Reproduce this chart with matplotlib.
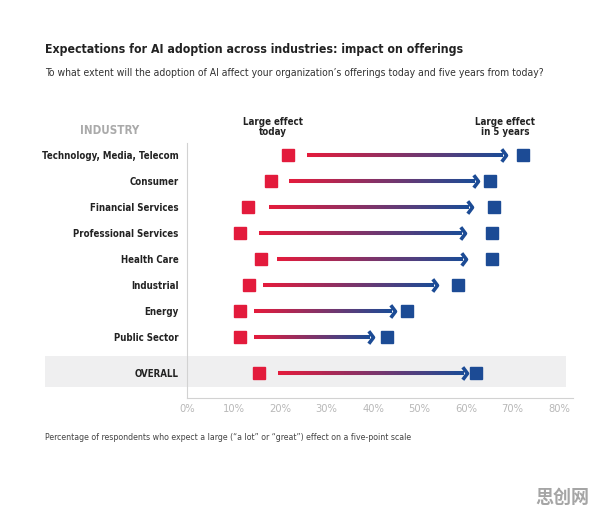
import numpy as np
import matplotlib
matplotlib.use("Agg")
import matplotlib.pyplot as plt
from matplotlib.collections import LineCollection
from matplotlib.colors import LinearSegmentedColormap
from matplotlib.patches import Rectangle
from matplotlib.path import Path

plt.rcParams["font.family"] = ["DejaVu Sans"]
plt.rcParams["font.stretch"] = "condensed"

# data (percent of respondents)
industries = ["Technology, Media, Telecom", "Consumer", "Financial Services",
              "Professional Services", "Health Care", "Industrial", "Energy",
              "Public Sector", "OVERALL"]
effect_today = [21.8, 18.1, 13.1, 11.4, 15.9, 13.4, 11.5, 11.5, 15.4]
effect_5yrs = [72.3, 65.2, 66.0, 65.6, 65.6, 58.2, 47.4, 43.1, 62.2]
# arrow shafts as drawn in the original (start and tip, in %)
arrow_start = [25.7, 21.9, 17.6, 15.5, 19.3, 16.4, 14.4, 14.4, 19.5]
arrow_end = [68.6, 62.5, 61.2, 59.8, 60.0, 53.8, 44.7, 39.9, 60.1]
x_ticks = [0, 10, 20, 30, 40, 50, 60, 70, 80]

RED = "#E31B3C"
BLUE = "#1C4B95"
DARK = "#222222"
GRAY = "#B8B8B8"

# row positions: the OVERALL row sits a bit apart from the rest
ypos = list(np.arange(8)) + [8.38]

fig = plt.figure(figsize=(5.96, 5.13), dpi=100)
ax = fig.add_axes([187 / 596, 1 - 398 / 513, 386 / 596, 255 / 513])
ax.set_facecolor("none")
ax.set_xlim(0, 83)
ax.set_ylim(9.35, -0.46)

# shaded band behind OVERALL
ax.add_patch(Rectangle((-30.5, 7.73), 112, 1.21, color="#EFEFF0", lw=0,
                       clip_on=False, zorder=0))

# gradient arrow shafts
cmap = LinearSegmentedColormap.from_list("rb", [RED, BLUE])
segs, cols = [], []
for y, x0, x1 in zip(ypos, arrow_start, arrow_end):
    xs = np.linspace(x0, x1 - 0.6, 60)
    for i in range(len(xs) - 1):
        segs.append([(xs[i], y), (xs[i + 1], y)])
        cols.append(cmap(i / (len(xs) - 2)))
ax.add_collection(LineCollection(segs, colors=cols, linewidths=2.9,
                                 capstyle="butt", zorder=2))

# open chevron heads
chevron = Path([(-0.75, 1.0), (0, 0), (-0.75, -1.0)],
               [Path.MOVETO, Path.LINETO, Path.LINETO])
ax.plot(arrow_end, ypos, linestyle="none", marker=chevron, markersize=9,
        markeredgewidth=2.6, markeredgecolor=BLUE, fillstyle="none", zorder=3)

ax.plot(effect_today, ypos, "s", color=RED, markersize=8.6, zorder=4)
ax.plot(effect_5yrs, ypos, "s", color=BLUE, markersize=8.6, zorder=4)

ax.set_yticks(ypos)
ax.set_yticklabels(industries, fontsize=6.9, fontweight="bold", color=DARK)
ax.set_xticks(x_ticks)
ax.set_xticklabels([f"{t}%" for t in x_ticks], fontsize=8, color=GRAY)
ax.tick_params(axis="y", length=0, pad=6)
ax.tick_params(axis="x", length=0, pad=4)
for side in ["top", "right"]:
    ax.spines[side].set_visible(False)
ax.spines["left"].set_color("#D2D2D2")
ax.spines["bottom"].set_color("#D2D2D2")

def fx(px):
    return px / 596

def fy(py):
    return 1 - py / 513

fig.text(fx(45), fy(50), "Expectations for AI adoption across industries: impact on offerings",
         fontsize=8.8, fontweight="bold", color=DARK, va="center")
fig.text(fx(45), fy(73), "To what extent will the adoption of AI affect your organization\u2019s "
         "offerings today and five years from today?",
         fontsize=7.45, color="#333333", va="center")
fig.text(fx(110), fy(131), "INDUSTRY", fontsize=8.3, fontweight="bold",
         color="#AAAAAA", ha="center", va="center")
fig.text(fx(273), fy(127), "Large effect\ntoday", fontsize=7, fontweight="bold",
         color=DARK, ha="center", va="center", linespacing=1.05)
fig.text(fx(505), fy(127), "Large effect\nin 5 years", fontsize=7, fontweight="bold",
         color=DARK, ha="center", va="center", linespacing=1.05)
fig.text(fx(45), fy(438), "Percentage of respondents who expect a large (\u201ca lot\u201d or "
         "\u201cgreat\u201d) effect on a five-point scale",
         fontsize=6.3, color="#444444", va="center")
fig.text(fx(562), fy(497), "思创网", fontsize=13, fontweight="bold", color="#A5A5A5",
         ha="center", va="center", family=["Noto Sans CJK SC", "DejaVu Sans"])

fig.savefig("out.png", dpi=100, facecolor="white")
